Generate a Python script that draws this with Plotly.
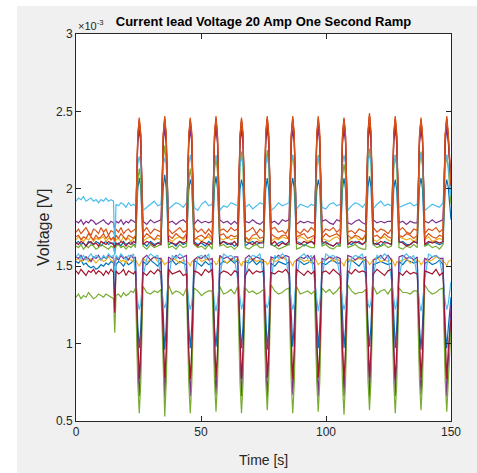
import plotly.graph_objects as go

# ---- time grid (s) ----
time_s = [
    0, 1, 2, 3, 4, 5, 6, 7, 8, 9, 10, 11, 12, 13, 14, 15, 15.5, 16, 17, 18, 19, 20, 21, 22, 23,
    23.8, 24.7, 25.3, 25.9, 26.8, 28.3, 29.8, 31.3, 32.7,
    34.0, 34.9, 35.5, 36.1, 37.0, 38.5, 40.0, 41.5, 42.9,
    44.2, 45.1, 45.7, 46.3, 47.2, 48.7, 50.2, 51.7, 53.1,
    54.5, 55.4, 56.0, 56.6, 57.5, 59.0, 60.5, 62.0, 63.4,
    64.7, 65.6, 66.2, 66.8, 67.7, 69.2, 70.7, 72.2, 73.6,
    75.0, 75.9, 76.5, 77.1, 78.0, 79.5, 81.0, 82.5, 83.9,
    85.2, 86.1, 86.7, 87.3, 88.2, 89.7, 91.2, 92.7, 94.1,
    95.4, 96.3, 96.9, 97.5, 98.4, 99.9, 101.4, 102.9, 104.3,
    105.7, 106.6, 107.2, 107.8, 108.7, 110.2, 111.7, 113.2, 114.6,
    115.9, 116.8, 117.4, 118.0, 118.9, 120.4, 121.9, 123.4, 124.8,
    126.2, 127.1, 127.7, 128.3, 129.2, 130.7, 132.2, 133.7, 135.1,
    136.5, 137.4, 138.0, 138.6, 139.5, 141.0, 142.5, 144.0, 145.4,
    146.8, 147.7, 148.3, 148.9, 150.0,
]

# ---- voltages (x1e-3 V) ----
blue_a = [
    1.65,1.66,1.64,1.65,1.63,1.66,1.65,1.64,1.66,1.65,1.63,1.65,1.66,1.64,1.65,1.65,1.60,1.64,1.65,1.63,1.66,1.64,1.65,1.66,1.64,
    1.64,2.00,2.07,2.01,1.65,1.63,1.66,1.64,1.65,
    1.66,2.01,2.09,2.00,1.64,1.65,1.63,1.66,1.64,
    1.65,1.99,2.06,2.02,1.66,1.64,1.65,1.63,1.66,
    1.64,2.01,2.08,2.00,1.65,1.66,1.64,1.65,1.63,
    1.65,2.00,2.06,2.01,1.63,1.65,1.66,1.64,1.65,
    1.66,2.00,2.07,1.99,1.64,1.63,1.65,1.66,1.64,
    1.64,2.01,2.07,2.00,1.66,1.65,1.63,1.65,1.66,
    1.65,1.99,2.06,2.01,1.64,1.66,1.64,1.63,1.65,
    1.63,2.00,2.07,2.00,1.65,1.64,1.66,1.65,1.64,
    1.66,2.01,2.08,2.01,1.64,1.65,1.63,1.66,1.65,
    1.64,2.00,2.06,1.99,1.65,1.66,1.64,1.64,1.66,
    1.65,2.01,2.07,2.00,1.63,1.65,1.66,1.65,1.64,
    1.65,2.00,2.06,2.01,1.80,
]
orange_a = [
    1.72,1.74,1.71,1.73,1.75,1.72,1.70,1.74,1.73,1.71,1.75,1.72,1.74,1.70,1.73,1.72,1.70,1.74,1.72,1.75,1.71,1.73,1.74,1.72,1.73,
    1.74,2.35,2.46,2.36,1.72,1.75,1.71,1.74,1.73,
    1.72,2.36,2.47,2.35,1.74,1.71,1.73,1.75,1.72,
    1.73,2.35,2.46,2.37,1.75,1.72,1.74,1.71,1.74,
    1.71,2.36,2.47,2.35,1.73,1.74,1.72,1.75,1.73,
    1.74,2.35,2.46,2.36,1.72,1.73,1.75,1.71,1.74,
    1.72,2.37,2.47,2.36,1.74,1.75,1.72,1.73,1.71,
    1.75,2.36,2.47,2.35,1.73,1.71,1.74,1.72,1.75,
    1.73,2.35,2.47,2.37,1.71,1.74,1.73,1.75,1.72,
    1.74,2.36,2.46,2.35,1.72,1.73,1.71,1.74,1.73,
    1.72,2.38,2.49,2.37,1.75,1.72,1.74,1.73,1.71,
    1.74,2.36,2.47,2.36,1.73,1.75,1.72,1.71,1.74,
    1.73,2.35,2.46,2.35,1.71,1.74,1.73,1.75,1.72,
    1.74,2.36,2.47,2.36,2.05,
]
yellow_a = [
    1.67,1.69,1.68,1.66,1.68,1.67,1.69,1.66,1.68,1.67,1.68,1.69,1.66,1.68,1.67,1.68,1.64,1.67,1.68,1.66,1.69,1.67,1.68,1.66,1.68,
    1.68,2.32,2.43,2.33,1.66,1.68,1.69,1.67,1.68,
    1.67,2.33,2.44,2.32,1.68,1.66,1.68,1.69,1.67,
    1.69,2.32,2.43,2.33,1.67,1.68,1.66,1.68,1.69,
    1.66,2.33,2.44,2.32,1.68,1.67,1.69,1.67,1.68,
    1.68,2.32,2.43,2.33,1.69,1.66,1.68,1.68,1.66,
    1.67,2.33,2.44,2.34,1.66,1.68,1.67,1.69,1.68,
    1.68,2.34,2.45,2.33,1.67,1.69,1.68,1.66,1.67,
    1.69,2.32,2.44,2.32,1.68,1.67,1.66,1.68,1.69,
    1.67,2.33,2.43,2.33,1.66,1.68,1.69,1.67,1.68,
    1.68,2.34,2.46,2.34,1.67,1.66,1.68,1.69,1.67,
    1.66,2.33,2.45,2.33,1.69,1.68,1.67,1.68,1.66,
    1.68,2.32,2.44,2.32,1.67,1.69,1.66,1.67,1.68,
    1.67,2.33,2.44,2.33,2.00,
]
purple_a = [
    1.79,1.78,1.80,1.77,1.79,1.78,1.80,1.79,1.77,1.78,1.79,1.80,1.78,1.77,1.79,1.78,1.74,1.79,1.78,1.80,1.77,1.79,1.78,1.80,1.79,
    1.78,2.29,2.38,2.30,1.79,1.77,1.80,1.78,1.79,
    1.80,2.30,2.39,2.29,1.78,1.79,1.77,1.79,1.80,
    1.78,2.29,2.38,2.30,1.77,1.80,1.78,1.79,1.78,
    1.79,2.30,2.39,2.29,1.80,1.78,1.79,1.77,1.79,
    1.77,2.29,2.38,2.30,1.79,1.78,1.80,1.78,1.77,
    1.79,2.30,2.39,2.29,1.78,1.79,1.77,1.80,1.79,
    1.80,2.29,2.38,2.30,1.77,1.79,1.78,1.79,1.78,
    1.78,2.30,2.39,2.29,1.79,1.80,1.78,1.77,1.80,
    1.79,2.29,2.38,2.30,1.78,1.77,1.79,1.80,1.78,
    1.77,2.31,2.40,2.30,1.80,1.78,1.79,1.78,1.79,
    1.79,2.30,2.39,2.29,1.78,1.79,1.77,1.79,1.78,
    1.78,2.29,2.38,2.30,1.79,1.78,1.80,1.78,1.79,
    1.80,2.30,2.39,2.30,2.05,
]
green_a = [
    1.63,1.62,1.64,1.61,1.63,1.62,1.64,1.63,1.61,1.62,1.64,1.63,1.62,1.61,1.63,1.62,1.58,1.63,1.64,1.62,1.63,1.61,1.63,1.62,1.64,
    1.62,2.05,2.13,2.06,1.63,1.61,1.64,1.62,1.63,
    1.64,2.18,2.28,2.17,1.62,1.63,1.61,1.64,1.62,
    1.63,2.05,2.13,2.06,1.64,1.62,1.63,1.61,1.64,
    1.61,2.12,2.20,2.11,1.63,1.64,1.62,1.63,1.61,
    1.63,2.15,2.24,2.14,1.62,1.61,1.63,1.64,1.62,
    1.62,2.16,2.25,2.15,1.64,1.63,1.61,1.62,1.63,
    1.64,2.13,2.22,2.14,1.61,1.62,1.64,1.63,1.62,
    1.62,2.14,2.22,2.13,1.63,1.64,1.62,1.61,1.63,
    1.63,2.08,2.16,2.09,1.62,1.63,1.64,1.62,1.61,
    1.61,2.17,2.26,2.16,1.64,1.62,1.63,1.64,1.62,
    1.63,2.13,2.22,2.14,1.62,1.61,1.63,1.62,1.64,
    1.62,2.15,2.24,2.15,1.63,1.64,1.62,1.63,1.61,
    1.64,2.14,2.22,2.13,1.90,
]
cyan_a = [
    1.92,1.94,1.93,1.95,1.92,1.93,1.94,1.92,1.93,1.91,1.93,1.92,1.94,1.92,1.93,1.92,1.57,1.90,1.89,1.91,1.90,1.88,1.91,1.89,1.90,
    1.89,2.16,2.21,2.15,1.86,1.88,1.90,1.92,1.89,
    1.90,2.15,2.20,2.16,1.87,1.89,1.91,1.90,1.88,
    1.91,2.16,2.22,2.15,1.88,1.86,1.90,1.92,1.89,
    1.90,2.17,2.22,2.16,1.86,1.89,1.88,1.91,1.90,
    1.89,2.15,2.21,2.16,1.88,1.90,1.87,1.89,1.91,
    1.90,2.16,2.21,2.15,1.86,1.88,1.91,1.89,1.90,
    1.91,2.16,2.22,2.16,1.87,1.90,1.89,1.88,1.90,
    1.89,2.15,2.21,2.15,1.88,1.87,1.90,1.91,1.89,
    1.90,2.16,2.22,2.16,1.86,1.89,1.91,1.90,1.88,
    1.91,2.17,2.23,2.16,1.87,1.90,1.92,1.89,1.90,
    1.89,2.16,2.22,2.15,1.88,1.89,1.90,1.91,1.89,
    1.90,2.17,2.23,2.16,1.86,1.88,1.90,1.89,1.88,
    1.91,2.16,2.22,2.15,1.95,
]
red_a = [
    1.65,1.64,1.66,1.65,1.63,1.65,1.66,1.64,1.65,1.63,1.66,1.65,1.64,1.66,1.65,1.64,1.62,1.65,1.64,1.66,1.65,1.63,1.65,1.64,1.66,
    1.65,2.33,2.44,2.34,1.64,1.66,1.65,1.63,1.65,
    1.64,2.34,2.45,2.33,1.66,1.65,1.64,1.66,1.65,
    1.66,2.33,2.44,2.34,1.65,1.63,1.66,1.65,1.64,
    1.65,2.34,2.45,2.33,1.64,1.66,1.65,1.64,1.66,
    1.63,2.33,2.44,2.34,1.66,1.65,1.64,1.66,1.65,
    1.65,2.34,2.45,2.33,1.64,1.66,1.63,1.65,1.64,
    1.66,2.33,2.45,2.34,1.65,1.64,1.66,1.65,1.66,
    1.64,2.34,2.44,2.33,1.66,1.65,1.64,1.63,1.65,
    1.65,2.33,2.45,2.34,1.64,1.66,1.65,1.66,1.64,
    1.66,2.35,2.47,2.34,1.65,1.64,1.66,1.65,1.65,
    1.64,2.34,2.45,2.33,1.66,1.65,1.63,1.64,1.66,
    1.65,2.33,2.44,2.34,1.64,1.66,1.65,1.66,1.65,
    1.66,2.34,2.45,2.33,2.02,
]
blue_b = [
    1.53,1.52,1.54,1.51,1.52,1.50,1.49,1.50,1.48,1.49,1.51,1.50,1.52,1.51,1.53,1.52,1.25,1.51,1.53,1.52,1.50,1.53,1.51,1.52,1.54,
    1.52,1.12,0.97,1.10,1.53,1.51,1.54,1.52,1.50,
    1.53,1.11,0.96,1.12,1.52,1.54,1.51,1.53,1.52,
    1.51,1.12,0.97,1.11,1.54,1.52,1.50,1.53,1.51,
    1.52,1.10,0.98,1.12,1.51,1.53,1.52,1.54,1.52,
    1.54,1.12,0.97,1.11,1.53,1.52,1.54,1.51,1.53,
    1.52,1.11,0.96,1.10,1.52,1.50,1.53,1.52,1.51,
    1.53,1.12,0.98,1.12,1.54,1.53,1.51,1.52,1.54,
    1.51,1.11,0.97,1.11,1.52,1.51,1.53,1.54,1.52,
    1.52,1.12,0.97,1.10,1.53,1.54,1.52,1.50,1.53,
    1.54,1.11,0.98,1.12,1.51,1.52,1.53,1.52,1.51,
    1.52,1.12,0.97,1.11,1.53,1.51,1.54,1.53,1.52,
    1.53,1.10,0.96,1.12,1.52,1.53,1.51,1.52,1.54,
    1.51,1.11,0.97,1.10,1.30,
]
orange_b = [
    1.69,1.70,1.67,1.69,1.68,1.71,1.69,1.67,1.70,1.68,1.69,1.71,1.68,1.70,1.67,1.69,1.66,1.70,1.68,1.71,1.69,1.67,1.70,1.69,1.68,
    1.70,2.34,2.45,2.35,1.68,1.71,1.69,1.67,1.70,
    1.69,2.35,2.46,2.34,1.70,1.68,1.71,1.69,1.68,
    1.71,2.34,2.45,2.35,1.67,1.69,1.70,1.68,1.71,
    1.68,2.35,2.46,2.34,1.70,1.71,1.68,1.70,1.69,
    1.70,2.34,2.45,2.35,1.69,1.67,1.70,1.71,1.68,
    1.69,2.35,2.46,2.34,1.71,1.69,1.68,1.70,1.70,
    1.67,2.34,2.46,2.35,1.69,1.70,1.71,1.68,1.69,
    1.70,2.35,2.46,2.34,1.68,1.71,1.69,1.70,1.71,
    1.69,2.34,2.45,2.35,1.70,1.68,1.70,1.69,1.67,
    1.71,2.36,2.48,2.35,1.69,1.70,1.68,1.71,1.69,
    1.68,2.35,2.46,2.34,1.70,1.69,1.71,1.70,1.68,
    1.70,2.34,2.45,2.35,1.68,1.71,1.69,1.68,1.70,
    1.69,2.35,2.46,2.35,2.03,
]
yellow_b = [
    1.54,1.55,1.53,1.54,1.56,1.53,1.55,1.54,1.52,1.54,1.55,1.53,1.54,1.56,1.54,1.53,1.52,1.54,1.55,1.53,1.54,1.52,1.55,1.54,1.53,
    1.54,1.52,1.50,1.52,1.55,1.53,1.54,1.56,1.53,
    1.55,1.53,1.51,1.52,1.53,1.55,1.54,1.52,1.54,
    1.53,1.52,1.50,1.53,1.54,1.56,1.53,1.54,1.55,
    1.54,1.53,1.51,1.52,1.56,1.54,1.52,1.55,1.53,
    1.55,1.52,1.50,1.53,1.53,1.54,1.55,1.53,1.54,
    1.53,1.53,1.51,1.52,1.55,1.53,1.54,1.56,1.54,
    1.54,1.52,1.50,1.53,1.54,1.55,1.53,1.54,1.52,
    1.56,1.53,1.51,1.52,1.53,1.54,1.56,1.53,1.55,
    1.53,1.52,1.50,1.53,1.55,1.53,1.54,1.55,1.54,
    1.54,1.53,1.51,1.52,1.54,1.56,1.53,1.54,1.53,
    1.55,1.52,1.50,1.53,1.53,1.54,1.55,1.52,1.54,
    1.54,1.53,1.51,1.52,1.55,1.53,1.54,1.56,1.55,
    1.53,1.52,1.50,1.53,1.54,
]
purple_b = [
    1.56,1.55,1.57,1.54,1.56,1.55,1.53,1.56,1.55,1.57,1.54,1.56,1.55,1.57,1.56,1.55,1.50,1.56,1.54,1.57,1.55,1.56,1.54,1.57,1.55,
    1.56,0.89,0.66,0.88,1.55,1.57,1.54,1.56,1.55,
    1.55,0.88,0.65,0.89,1.56,1.54,1.57,1.55,1.56,
    1.57,0.89,0.66,0.88,1.54,1.56,1.55,1.57,1.54,
    1.55,0.88,0.67,0.89,1.57,1.55,1.56,1.54,1.56,
    1.56,0.89,0.66,0.88,1.55,1.57,1.54,1.56,1.55,
    1.54,0.88,0.65,0.89,1.56,1.55,1.57,1.55,1.57,
    1.56,0.89,0.67,0.88,1.54,1.56,1.55,1.57,1.54,
    1.57,0.88,0.66,0.89,1.55,1.54,1.56,1.55,1.56,
    1.55,0.89,0.66,0.88,1.57,1.56,1.54,1.56,1.55,
    1.56,0.88,0.65,0.89,1.54,1.55,1.57,1.54,1.57,
    1.54,0.89,0.66,0.88,1.56,1.57,1.55,1.56,1.54,
    1.56,0.88,0.67,0.89,1.55,1.54,1.56,1.57,1.55,
    1.55,0.89,0.66,0.88,1.25,
]
green_b = [
    1.30,1.32,1.29,1.31,1.30,1.33,1.31,1.29,1.30,1.32,1.31,1.30,1.32,1.31,1.30,1.29,1.07,1.31,1.32,1.30,1.33,1.31,1.32,1.34,1.33,
    1.36,0.75,0.55,0.74,1.37,1.33,1.32,1.34,1.33,
    1.35,0.74,0.53,0.75,1.38,1.32,1.34,1.33,1.31,
    1.36,0.75,0.55,0.74,1.36,1.34,1.31,1.33,1.34,
    1.34,0.76,0.56,0.75,1.37,1.32,1.33,1.35,1.32,
    1.37,0.75,0.55,0.74,1.36,1.33,1.34,1.32,1.33,
    1.35,0.76,0.57,0.76,1.38,1.34,1.32,1.33,1.35,
    1.36,0.75,0.55,0.74,1.37,1.32,1.33,1.34,1.32,
    1.34,0.75,0.56,0.75,1.36,1.33,1.35,1.32,1.34,
    1.37,0.74,0.54,0.75,1.38,1.34,1.32,1.33,1.33,
    1.35,0.76,0.57,0.76,1.37,1.32,1.34,1.35,1.32,
    1.36,0.75,0.55,0.74,1.36,1.33,1.33,1.32,1.34,
    1.34,0.76,0.57,0.75,1.38,1.34,1.32,1.33,1.35,
    1.36,0.75,0.56,0.74,1.10,
]
cyan_b = [
    1.56,1.58,1.55,1.57,1.54,1.56,1.58,1.55,1.57,1.56,1.54,1.57,1.55,1.58,1.56,1.57,1.40,1.57,1.55,1.58,1.56,1.54,1.57,1.56,1.58,
    1.42,1.27,1.22,1.26,1.43,1.55,1.58,1.56,1.57,
    1.41,1.26,1.23,1.27,1.42,1.57,1.55,1.58,1.56,
    1.43,1.27,1.22,1.26,1.41,1.56,1.57,1.55,1.58,
    1.42,1.26,1.21,1.27,1.43,1.58,1.56,1.57,1.55,
    1.41,1.27,1.22,1.26,1.42,1.55,1.57,1.56,1.58,
    1.43,1.26,1.23,1.27,1.41,1.57,1.55,1.58,1.56,
    1.42,1.27,1.22,1.26,1.43,1.56,1.58,1.55,1.57,
    1.41,1.26,1.21,1.27,1.42,1.58,1.56,1.57,1.55,
    1.43,1.27,1.22,1.26,1.41,1.55,1.57,1.56,1.58,
    1.42,1.26,1.23,1.27,1.43,1.57,1.55,1.58,1.56,
    1.41,1.27,1.22,1.26,1.42,1.56,1.58,1.55,1.57,
    1.43,1.26,1.21,1.27,1.41,1.58,1.56,1.57,1.55,
    1.42,1.27,1.22,1.26,1.40,
]
red_b = [
    1.47,1.45,1.48,1.46,1.44,1.47,1.46,1.48,1.45,1.47,1.46,1.44,1.47,1.45,1.48,1.46,1.20,1.47,1.45,1.46,1.48,1.44,1.47,1.46,1.45,
    1.47,0.95,0.77,0.96,1.46,1.44,1.47,1.45,1.48,
    1.46,0.96,0.78,0.95,1.48,1.45,1.46,1.47,1.44,
    1.45,0.95,0.77,0.96,1.47,1.46,1.44,1.48,1.46,
    1.48,0.96,0.78,0.95,1.45,1.47,1.46,1.44,1.47,
    1.46,0.95,0.77,0.96,1.44,1.48,1.45,1.47,1.46,
    1.47,0.96,0.78,0.95,1.46,1.45,1.47,1.46,1.48,
    1.45,0.95,0.77,0.96,1.48,1.46,1.44,1.47,1.45,
    1.47,0.96,0.78,0.95,1.46,1.47,1.45,1.48,1.46,
    1.44,0.95,0.77,0.96,1.47,1.45,1.48,1.46,1.47,
    1.46,0.96,0.78,0.95,1.45,1.48,1.46,1.44,1.47,
    1.48,0.95,0.77,0.96,1.46,1.44,1.47,1.45,1.46,
    1.45,0.96,0.78,0.95,1.47,1.46,1.45,1.48,1.44,
    1.46,0.95,0.77,0.96,1.15,
]

series = [blue_a, orange_a, yellow_a, purple_a, green_a, cyan_a, red_a,
          blue_b, orange_b, yellow_b, purple_b, green_b, cyan_b, red_b]
colors = ["#0072BD", "#D95319", "#EDB120", "#7E2F8E", "#77AC30", "#4DBEEE", "#A2142F"] * 2

x_ticks = [0, 50, 100, 150]
y_ticks = [0.5, 1, 1.5, 2, 2.5, 3]
y_tick_text = ["0.5", "1", "1.5", "2", "2.5", "3"]

for s in series:
    assert len(s) == len(time_s), (len(s), len(time_s))

fig = go.Figure()
for s, c in zip(series, colors):
    fig.add_trace(go.Scatter(x=time_s, y=s, mode="lines",
                             line=dict(color=c, width=1.2), showlegend=False,
                             hoverinfo="skip"))

font_family = "Liberation Sans, Arial, sans-serif"
axis_col = "#262626"

fig.update_layout(
    width=477, height=473,
    margin=dict(l=76, r=26, t=34, b=52),
    paper_bgcolor="#f0f0f0",
    plot_bgcolor="white",
    font=dict(family=font_family, color=axis_col, size=12),
    title=dict(text="<b>Current lead Voltage 20 Amp One Second Ramp</b>",
               font=dict(size=13, color="black", family=font_family),
               x=0.5, xref="paper", y=1 - 21 / 473, yref="container",
               xanchor="center", yanchor="middle"),
    xaxis=dict(range=[0, 150], tickvals=x_ticks, ticks="inside", ticklen=5,
               showline=True, linecolor=axis_col, linewidth=1, mirror="ticks",
               showgrid=False, zeroline=False, tickcolor=axis_col,
               tickfont=dict(size=12, color=axis_col)),
    yaxis=dict(range=[0.5, 3], tickvals=y_ticks, ticktext=y_tick_text,
               ticks="inside", ticklen=5, showline=True, linecolor=axis_col,
               linewidth=1, mirror="ticks", showgrid=False, zeroline=False,
               tickcolor=axis_col, tickfont=dict(size=12, color=axis_col)),
    shapes=[
        dict(type="rect", xref="paper", yref="paper", x0=-0.25, x1=(17 - 76) / 375,
             y0=-0.3, y1=1.3, fillcolor="white", line=dict(width=0), layer="below"),
        dict(type="rect", xref="paper", yref="paper", x0=-0.3, x1=1.3,
             y0=(421 - 6) / 387, y1=1.3, fillcolor="white", line=dict(width=0), layer="below"),
    ],
    annotations=[
        dict(text="×10<sup>-3</sup>", x=0, y=(421 - 25) / 387, xref="paper", yref="paper",
             xanchor="left", yanchor="middle", showarrow=False,
             font=dict(size=11, color=axis_col)),
        dict(text="Time [s]", x=0.5, y=(421 - 460) / 387, xref="paper", yref="paper",
             xanchor="center", yanchor="middle", showarrow=False,
             font=dict(size=14, color=axis_col)),
        dict(text="Voltage [V]", x=(44 - 76) / 375, y=(421 - 228) / 387, xref="paper",
             yref="paper", xanchor="center", yanchor="middle", showarrow=False,
             textangle=-90, font=dict(size=16, color=axis_col)),
    ],
)

fig.write_html("out.html", config={"displayModeBar": False},
               post_script="document.body.style.margin='0';")
